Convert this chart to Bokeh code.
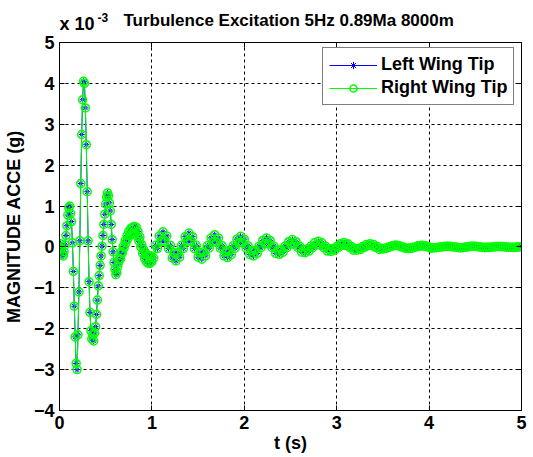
import numpy as np
from bokeh.plotting import figure
from bokeh.layouts import column
from bokeh.models import (Range1d, FixedTicker, LinearAxis, Label, Legend,
                          LegendItem, ColumnDataSource)
from bokeh.embed import file_html
from bokeh.resources import INLINE

# ---------------- texts ----------------
title_text = "Turbulence Excitation 5Hz 0.89Ma 8000m"
x_label = "t (s)"
y_label = "MAGNITUDE ACCE (g)"
scale_base = "x 10"
scale_exp = "-3"
series_names = ["Left Wing Tip", "Right Wing Tip"]

x_ticks = [0, 1, 2, 3, 4, 5]
y_ticks = [-4, -3, -2, -1, 0, 1, 2, 3, 4, 5]

# ---------------- time samples ----------------
t_early = np.round(np.arange(0, 101) * 0.01, 2)          # 0.00 .. 1.00 s
t_late = np.round(1.02 + np.arange(0, 200) * 0.02, 2)    # 1.02 .. 5.00 s

# ---------------- values (x 1e-3 g) ----------------
left_early = [
    0.00, 0.08, -0.05, -0.18, -0.22, -0.12, 0.05, 0.28, 0.52, 0.78,
    0.96, 1.00, 0.82, 0.62, 0.10, -0.60, -1.45, -2.20, -2.85, -3.00,
    -2.15, -1.10, 0.15, 1.55, 2.75, 3.60, 4.05, 4.00, 3.40, 2.50,
    1.35, 0.15, -0.85, -1.60, -2.05, -2.25, -2.15, -2.30, -2.10, -1.95,
    -1.65, -1.30, -0.95, -0.70, -0.45, -0.22, 0.02, 0.28, 0.55, 0.80,
    1.05, 1.22, 1.32, 1.25, 1.08, 0.88, 0.55, 0.18, -0.12, -0.38,
    -0.55, -0.68, -0.62, -0.48, -0.38, -0.28, -0.30, -0.12, -0.15, 0.02,
    -0.02, 0.15, 0.10, 0.28, 0.20, 0.38, 0.28, 0.45, 0.32, 0.48,
    0.33, 0.50, 0.34, 0.48, 0.26, 0.38, 0.14, 0.24, 0.00, 0.06,
    -0.16, -0.06, -0.28, -0.14, -0.36, -0.20, -0.40, -0.22, -0.40, -0.22,
    -0.36,
]
left_late = [
    -0.27, 0.04, -0.04, 0.27, 0.14, 0.37, 0.14, 0.27, -0.04, 0.04, -0.27, -0.14,
    -0.34, -0.14, -0.25, 0.04, -0.04, 0.25, 0.14, 0.34, 0.14, 0.25, -0.04, 0.04, -0.25, -0.14,
    -0.30, -0.12, -0.22, 0.03, -0.03, 0.22, 0.12, 0.30, 0.12, 0.22, -0.03, 0.03, -0.22, -0.12,
    -0.26, -0.10, -0.19, 0.03, -0.03, 0.19, 0.10, 0.26, 0.10, 0.19, -0.03, 0.03, -0.19, -0.10,
    -0.22, -0.08, -0.16, 0.02, -0.02, 0.16, 0.08, 0.22, 0.08, 0.16, -0.02, 0.02, -0.16, -0.08,
    -0.18, -0.07, -0.13, 0.02, -0.02, 0.13, 0.07, 0.18, 0.07, 0.13, -0.02, 0.02, -0.13, -0.07,
    -0.14, -0.05, -0.10, 0.02, -0.02, 0.10, 0.05, 0.14, 0.05, 0.10, -0.02, 0.02, -0.10, -0.05,
    -0.11, -0.04, -0.08, 0.01, -0.01, 0.08, 0.04, 0.11, 0.04, 0.08, -0.01, 0.01, -0.08, -0.04,
    -0.08, -0.03, -0.06, 0.01, -0.01, 0.06, 0.03, 0.08, 0.03, 0.06, -0.01, 0.01, -0.06, -0.03,
    -0.05, -0.03, -0.03, 0.00, 0.00, 0.03, 0.03, 0.05, 0.03, 0.03, 0.00, 0.00, -0.03, -0.03,
    -0.04, -0.02, -0.03, 0.00, 0.00, 0.03, 0.02, 0.04, 0.02, 0.03, 0.00, 0.00, -0.03, -0.02,
    -0.02, -0.02, -0.01, 0.00, 0.00, 0.01, 0.02, 0.02, 0.02, 0.01, 0.00, 0.00, -0.01, -0.02,
    -0.02, -0.02, -0.01, 0.00, 0.00, 0.01, 0.02, 0.02, 0.02, 0.01, 0.00, 0.00, -0.01, -0.02,
    -0.01, -0.01, -0.01, 0.00, 0.00, 0.01, 0.01, 0.01, 0.01, 0.01, 0.00, 0.00, -0.01, -0.01,
    -0.01, -0.01, -0.01, 0.00, 0.00, 0.01,
]
right_early = [
    0.00, 0.08, -0.05, -0.18, -0.22, -0.12, 0.05, 0.28, 0.52, 0.78,
    0.96, 1.00, 0.82, 0.62, 0.10, -0.60, -1.45, -2.20, -2.85, -3.00,
    -2.15, -1.10, 0.15, 1.55, 2.75, 3.60, 4.05, 4.00, 3.40, 2.50,
    1.35, 0.15, -0.85, -1.60, -2.05, -2.25, -2.15, -2.30, -2.10, -1.95,
    -1.65, -1.30, -0.95, -0.70, -0.45, -0.22, 0.02, 0.28, 0.55, 0.80,
    1.05, 1.22, 1.32, 1.25, 1.08, 0.88, 0.55, 0.18, -0.12, -0.38,
    -0.55, -0.68, -0.62, -0.48, -0.38, -0.28, -0.30, -0.12, -0.15, 0.02,
    -0.02, 0.15, 0.10, 0.28, 0.20, 0.38, 0.28, 0.45, 0.32, 0.48,
    0.33, 0.50, 0.34, 0.48, 0.26, 0.38, 0.14, 0.24, 0.00, 0.06,
    -0.16, -0.06, -0.28, -0.14, -0.36, -0.20, -0.40, -0.22, -0.40, -0.22,
    -0.36,
]
right_late = [
    -0.27, 0.04, -0.04, 0.27, 0.14, 0.37, 0.14, 0.27, -0.04, 0.04, -0.27, -0.14,
    -0.34, -0.14, -0.25, 0.04, -0.04, 0.25, 0.14, 0.34, 0.14, 0.25, -0.04, 0.04, -0.25, -0.14,
    -0.30, -0.12, -0.22, 0.03, -0.03, 0.22, 0.12, 0.30, 0.12, 0.22, -0.03, 0.03, -0.22, -0.12,
    -0.26, -0.10, -0.19, 0.03, -0.03, 0.19, 0.10, 0.26, 0.10, 0.19, -0.03, 0.03, -0.19, -0.10,
    -0.22, -0.08, -0.16, 0.02, -0.02, 0.16, 0.08, 0.22, 0.08, 0.16, -0.02, 0.02, -0.16, -0.08,
    -0.18, -0.07, -0.13, 0.02, -0.02, 0.13, 0.07, 0.18, 0.07, 0.13, -0.02, 0.02, -0.13, -0.07,
    -0.14, -0.05, -0.10, 0.02, -0.02, 0.10, 0.05, 0.14, 0.05, 0.10, -0.02, 0.02, -0.10, -0.05,
    -0.11, -0.04, -0.08, 0.01, -0.01, 0.08, 0.04, 0.11, 0.04, 0.08, -0.01, 0.01, -0.08, -0.04,
    -0.08, -0.03, -0.06, 0.01, -0.01, 0.06, 0.03, 0.08, 0.03, 0.06, -0.01, 0.01, -0.06, -0.03,
    -0.05, -0.03, -0.03, 0.00, 0.00, 0.03, 0.03, 0.05, 0.03, 0.03, 0.00, 0.00, -0.03, -0.03,
    -0.04, -0.02, -0.03, 0.00, 0.00, 0.03, 0.02, 0.04, 0.02, 0.03, 0.00, 0.00, -0.03, -0.02,
    -0.02, -0.02, -0.01, 0.00, 0.00, 0.01, 0.02, 0.02, 0.02, 0.01, 0.00, 0.00, -0.01, -0.02,
    -0.02, -0.02, -0.01, 0.00, 0.00, 0.01, 0.02, 0.02, 0.02, 0.01, 0.00, 0.00, -0.01, -0.02,
    -0.01, -0.01, -0.01, 0.00, 0.00, 0.01, 0.01, 0.01, 0.01, 0.01, 0.00, 0.00, -0.01, -0.01,
    -0.01, -0.01, -0.01, 0.00, 0.00, 0.01,
]

t = np.concatenate([t_early, t_late])
left_vals = np.array(left_early + left_late)
right_vals = np.array(right_early + right_late)

FONT = "Liberation Sans"
BLUE = "#0000FF"
GREEN = "#00FF00"

x_range = Range1d(0, 5)

# ---------------- header strip (title and exponent) ----------------
# its frame is aligned with the main plot's frame by the column layout,
# so x positions are given in the main plot's t units
HEADER_H = 34
header = figure(width=533, height=HEADER_H, output_backend="svg",
                toolbar_location=None, x_range=x_range,
                y_range=Range1d(0, HEADER_H),
                min_border=0, min_border_left=0, min_border_right=0,
                min_border_top=0, min_border_bottom=0,
                x_axis_location=None, y_axis_location=None)
header.outline_line_color = None
header.xgrid.visible = False
header.ygrid.visible = False
header.background_fill_color = "white"
header.border_fill_color = "white"

header.add_layout(Label(x=2.48, y=HEADER_H - 20, text=title_text,
                        text_align="center", text_baseline="middle",
                        text_font=FONT, text_font_style="bold",
                        text_font_size="17px", text_color="black"))
header.add_layout(Label(x=0.0, y=0.5, text=scale_base,
                        text_align="left", text_baseline="bottom",
                        text_font=FONT, text_font_style="bold",
                        text_font_size="18px", text_color="black"))
header.add_layout(Label(x=0.41, y=HEADER_H - 17, text=scale_exp,
                        text_align="left", text_baseline="alphabetic",
                        text_font=FONT, text_font_style="bold",
                        text_font_size="12px", text_color="black"))

# ---------------- main plot ----------------
p = figure(width=533, height=457 - HEADER_H, output_backend="svg",
           toolbar_location=None,
           x_range=x_range, y_range=Range1d(-4, 5),
           min_border_left=59, min_border_right=12,
           min_border_top=42 - HEADER_H, min_border_bottom=47)
p.background_fill_color = "white"
p.border_fill_color = "white"
p.outline_line_color = "black"
p.outline_line_width = 1


def style_axis(ax, ticks, show_labels=True, standoff=5):
    ax.ticker = FixedTicker(ticks=ticks)
    ax.major_tick_in = 5
    ax.major_tick_out = 0
    ax.minor_tick_line_color = None
    ax.axis_line_color = "black"
    ax.major_tick_line_color = "black"
    ax.major_label_text_font = FONT
    ax.major_label_text_font_style = "bold"
    ax.major_label_text_font_size = "18px"
    ax.major_label_text_color = "black"
    ax.major_label_standoff = standoff
    ax.axis_label_text_font = FONT
    ax.axis_label_text_font_style = "bold"
    ax.axis_label_text_font_size = "18px"
    ax.axis_label_text_color = "black"
    if not show_labels:
        ax.major_label_overrides = {tk: "" for tk in ticks}
        ax.major_label_text_font_size = "1px"


style_axis(p.xaxis[0], x_ticks, standoff=5)
style_axis(p.yaxis[0], y_ticks, standoff=5)
p.xaxis[0].axis_label = x_label
p.xaxis[0].axis_label_standoff = 1
p.yaxis[0].axis_label = y_label
p.yaxis[0].axis_label_standoff = 7

top_axis = LinearAxis()
style_axis(top_axis, x_ticks, show_labels=False, standoff=0)
p.add_layout(top_axis, "above")
right_axis = LinearAxis()
style_axis(right_axis, y_ticks, show_labels=False, standoff=0)
p.add_layout(right_axis, "right")

p.grid.grid_line_color = "black"
p.grid.grid_line_dash = "3 3"
p.grid.grid_line_width = 1

src_l = ColumnDataSource(dict(t=t, a=left_vals))
src_r = ColumnDataSource(dict(t=t, a=right_vals))

l1 = p.line("t", "a", source=src_l, line_color=BLUE, line_width=1)
s1 = p.scatter("t", "a", source=src_l, marker="asterisk", size=6,
               line_color=BLUE, line_width=1)
l2 = p.line("t", "a", source=src_r, line_color=GREEN, line_width=1)
s2 = p.scatter("t", "a", source=src_r, marker="circle", size=8,
               fill_color=None, line_color=GREEN, line_width=1.5)

legend = Legend(items=[LegendItem(label=series_names[0], renderers=[l1, s1]),
                       LegendItem(label=series_names[1], renderers=[l2, s2])],
                location=(263, 305), orientation="vertical",
                label_text_font=FONT, label_text_font_style="bold",
                label_text_font_size="18px", label_text_color="black",
                glyph_width=48, glyph_height=18, label_height=18,
                label_standoff=4, padding=6, spacing=2, margin=0,
                border_line_color="black", border_line_width=1,
                background_fill_color="white", background_fill_alpha=1)
p.add_layout(legend)

layout = column(header, p, spacing=0)
open("out.html", "w").write(file_html(layout, INLINE))
